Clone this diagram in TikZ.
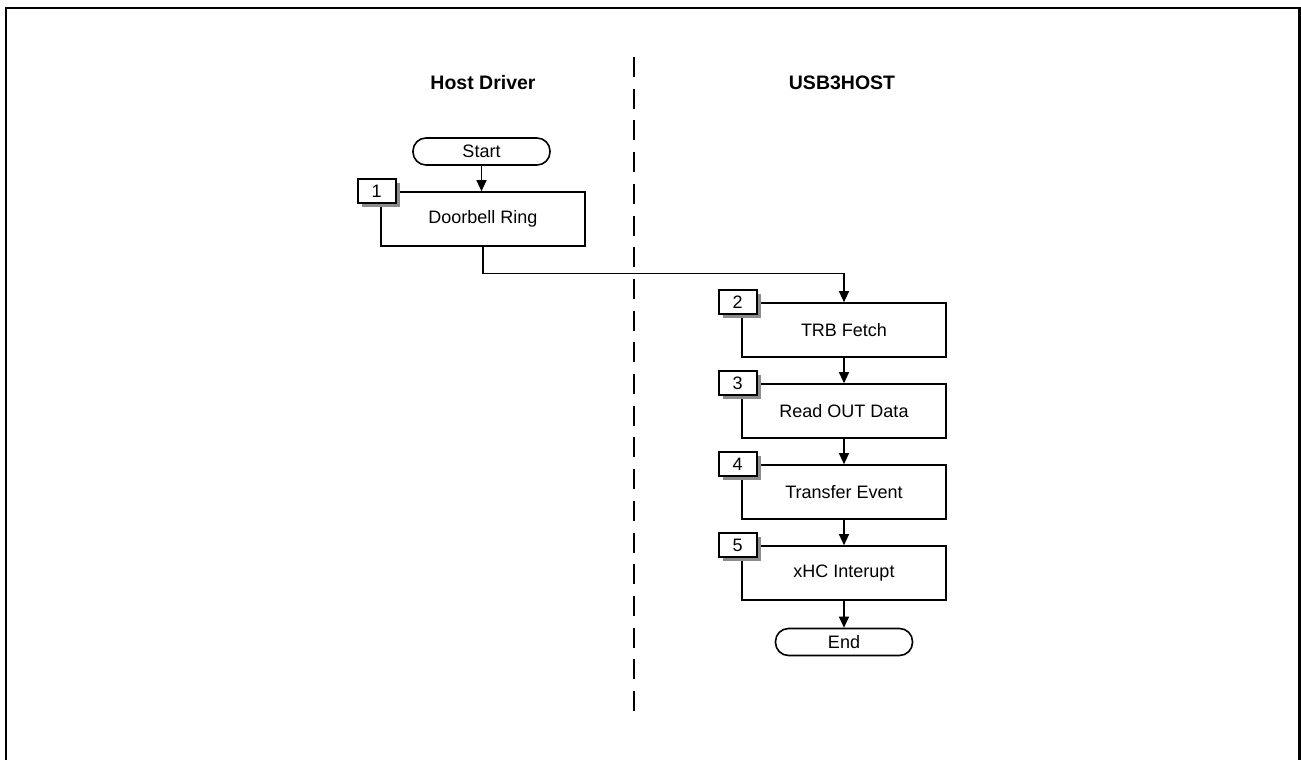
\documentclass[tikz,border=0pt]{standalone}
\usepackage{fontspec}
\setmainfont{Liberation Sans}
\usetikzlibrary{arrows.meta,shadows}
\begin{document}
\begin{tikzpicture}[x=1pt,y=-1pt,
  stepbox/.style={draw,line width=1.6pt,fill=white,minimum width=204pt,minimum height=54pt,inner sep=0pt,font=\fontsize{18}{20}\selectfont},
  numbox/.style={draw,line width=1.6pt,fill=white,minimum width=38pt,minimum height=24pt,inner sep=0pt,font=\fontsize{18}{20}\selectfont,
    drop shadow={shadow xshift=4pt,shadow yshift=-4pt,fill=black!45,opacity=1}},
  term/.style={draw,line width=1.6pt,fill=white,rounded corners=13pt,minimum width=137pt,minimum height=27pt,inner sep=0pt,font=\fontsize{18}{20}\selectfont},
  head/.style={font=\bfseries\fontsize{19.5}{22}\selectfont},
  arr/.style={line width=1.1pt,-{Triangle[width=10pt,length=11pt]}},
  lane/.style={line width=2.6pt,dash pattern=on 20pt off 11.7pt}
]
\useasboundingbox (0,0) rectangle (1301,760);
% frame
\draw[line width=2.7pt] (6,760) -- (6,8) -- (1299.5,8) -- (1299.5,760);
% lane divider
\coordinate (lt) at (634,57);
\coordinate (lb) at (634,711);
\draw[lane] (lt) -- (lb);
% headings
\node[head] (hd) at (483,83) {Host Driver};
\node[head] (hu) at (842,83) {USB3HOST};
% nodes
\node[term] (start) at (481.5,151.5) {Start};
\node[stepbox] (b1) at (483,219) {Doorbell Ring};
\node[stepbox] (b2) at (844,330) {TRB Fetch};
\node[stepbox] (b3) at (844,411) {Read OUT Data};
\node[stepbox] (b4) at (844,492) {Transfer Event};
\node[stepbox] (b5) at (844,573) {xHC Interupt};
\node[term] (end) at (844,642) {End};
% number tags
\node[numbox] (n1) at ([xshift=-3.5pt]b1.north west) {1};
\node[numbox] (n2) at ([xshift=-3.5pt]b2.north west) {2};
\node[numbox] (n3) at ([xshift=-3.5pt]b3.north west) {3};
\node[numbox] (n4) at ([xshift=-3.5pt]b4.north west) {4};
\node[numbox] (n5) at ([xshift=-3.5pt]b5.north west) {5};
% connectors
\draw[arr] (start.south) -- (start.south |- b1.north);
\draw[arr] (b1.south) -- ++(0,27) -| (b2.north);
\draw[arr] (b2.south) -- (b3.north);
\draw[arr] (b3.south) -- (b4.north);
\draw[arr] (b4.south) -- (b5.north);
\draw[arr] (b5.south) -- (end.north);
\end{tikzpicture}
\end{document}
